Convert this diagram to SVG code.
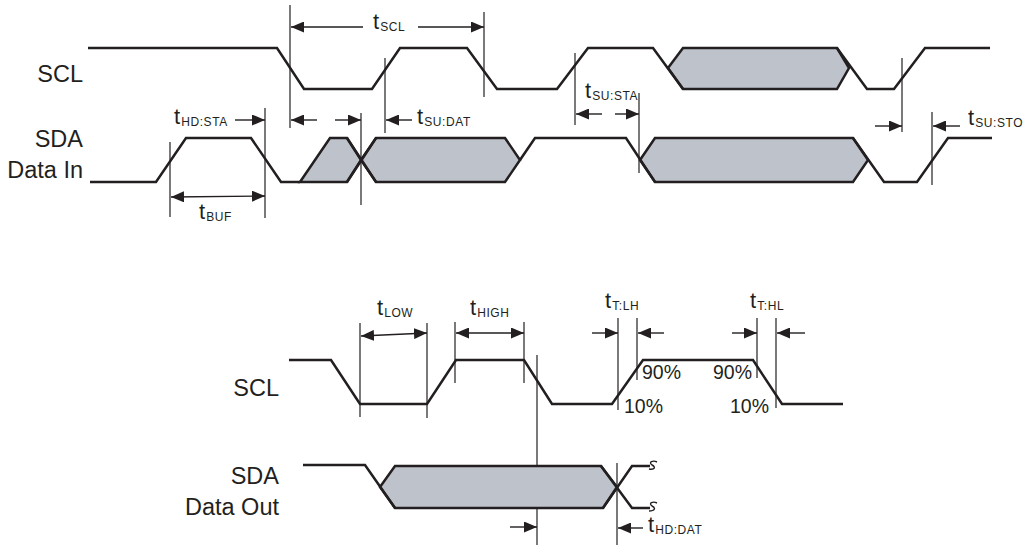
<svg xmlns="http://www.w3.org/2000/svg" width="1029" height="547" viewBox="0 0 1029 547">
<defs>
<marker id="ah" viewBox="0 0 13 11" refX="13" refY="5.5" markerWidth="13" markerHeight="11" markerUnits="userSpaceOnUse" orient="auto-start-reverse"><path d="M0,0 L13,5.5 L0,11 z" fill="#231f20"/></marker>
</defs>
<style>
.sig{fill:none;stroke:#231f20;stroke-width:2.5;stroke-linejoin:miter}
.hex{fill:#bec3cb;stroke:#231f20;stroke-width:2.5}
.ref{fill:none;stroke:#231f20;stroke-width:1.2}
.arr{fill:none;stroke:#231f20;stroke-width:1.4;marker-end:url(#ah)}
.darr{fill:none;stroke:#231f20;stroke-width:1.4;marker-end:url(#ah);marker-start:url(#ah)}
.lbl{font-family:"Liberation Sans",Arial,sans-serif;font-size:23.5px;fill:#231f20;text-anchor:end}
.t{font-family:"Liberation Sans",Arial,sans-serif;font-size:22px;fill:#231f20}
.sub{font-size:12px;letter-spacing:0.6px}
.pct{font-family:"Liberation Sans",Arial,sans-serif;font-size:19.5px;fill:#231f20}
.sq{fill:none;stroke:#231f20;stroke-width:1.4}
</style>
<rect width="1029" height="547" fill="#ffffff"/>

<g id="top-labels">
<text class="lbl" x="83" y="82">SCL</text>
<text class="lbl" x="83" y="147">SDA</text>
<text class="lbl" x="83" y="178">Data In</text>
</g>

<g id="top-scl">
<polygon class="hex" points="668,68 683,48 837,48 849,68 837,89 683,89"/>
<polyline class="sig" points="88,48 277,48 304,89 372,89 400,48 467,48 497,89 557,89 588,48 653,48 683,89"/>
<polyline class="sig" points="837,48 867,89 894,89 925,48 990,48"/>
</g>

<g id="top-sda">
<polygon class="hex" points="300,182 330,138 347,138 361,160 347,182"/>
<polygon class="hex" points="361,160 376,138 505,138 520,160 505,182 376,182"/>
<polygon class="hex" points="640,160 655,138 853,138 868,160 853,182 655,182"/>
<polyline class="sig" points="90,182 156,182 186,138 251,138 281,182 300,182"/>
<polyline class="sig" points="347,138 376,182"/>
<polyline class="sig" points="347,182 376,138"/>
<polyline class="sig" points="520,160 535,138 626,138 655,182"/>
<polyline class="sig" points="853,138 884,182 917,182 948,138 992,138"/>
</g>

<g id="connectors">
<line class="ref" x1="290" y1="5" x2="290" y2="128"/>
<line class="ref" x1="484" y1="12" x2="484" y2="97"/>
<line class="ref" x1="385" y1="58" x2="385" y2="133"/>
<line class="ref" x1="361" y1="113" x2="361" y2="205"/>
<line class="ref" x1="265" y1="108" x2="265" y2="218"/>
<line class="ref" x1="170" y1="142" x2="170" y2="217"/>
<line class="ref" x1="575" y1="53" x2="575" y2="125"/>
<line class="ref" x1="639" y1="93" x2="639" y2="173"/>
<line class="ref" x1="902" y1="58" x2="902" y2="132"/>
<line class="ref" x1="932" y1="112" x2="932" y2="185"/>

<line class="arr" x1="363" y1="27" x2="291" y2="27"/>
<line class="arr" x1="418" y1="27" x2="484" y2="27"/>
<line class="arr" x1="235" y1="120" x2="265" y2="120"/>
<line class="arr" x1="317" y1="120" x2="291" y2="120"/>
<line class="arr" x1="335" y1="120" x2="361" y2="120"/>
<line class="arr" x1="412" y1="120" x2="386" y2="120"/>
<line class="darr" x1="171" y1="197" x2="265" y2="196"/>
<line class="arr" x1="602" y1="114" x2="576" y2="114"/>
<line class="arr" x1="615" y1="114" x2="639" y2="114"/>
<line class="arr" x1="875" y1="126" x2="902" y2="126"/>
<line class="arr" x1="960" y1="126" x2="933" y2="126"/>

<line class="ref" x1="360" y1="323" x2="360" y2="417"/>
<line class="ref" x1="427" y1="323" x2="427" y2="418"/>
<line class="ref" x1="455" y1="322" x2="455" y2="383"/>
<line class="ref" x1="524" y1="322" x2="524" y2="383"/>
<line class="ref" x1="537" y1="355" x2="537" y2="545"/>
<line class="ref" x1="617" y1="463" x2="617" y2="545"/>
<line class="ref" x1="618" y1="318" x2="618" y2="410"/>
<line class="ref" x1="637" y1="318" x2="637" y2="380"/>
<line class="ref" x1="757" y1="318" x2="757" y2="378"/>
<line class="ref" x1="776" y1="318" x2="776" y2="408"/>

<line class="darr" x1="361" y1="336" x2="427" y2="333"/>
<line class="darr" x1="456" y1="333" x2="524" y2="333"/>
<line class="arr" x1="510" y1="527" x2="537" y2="527"/>
<line class="arr" x1="643" y1="528" x2="618" y2="528"/>
<line class="arr" x1="592" y1="333" x2="618" y2="333"/>
<line class="arr" x1="664" y1="333" x2="638" y2="333"/>
<line class="arr" x1="732" y1="333" x2="757" y2="333"/>
<line class="arr" x1="805" y1="333" x2="777" y2="333"/>
</g>

<g id="top-timing-labels">
<text class="t" x="373" y="29">t<tspan class="sub" dx="1" dy="2">SCL</tspan></text>
<text class="t" x="174" y="124">t<tspan class="sub" dx="1" dy="2">HD:STA</tspan></text>
<text class="t" x="417" y="124">t<tspan class="sub" dx="1" dy="2">SU:DAT</tspan></text>
<text class="t" x="199" y="219">t<tspan class="sub" dx="1" dy="2">BUF</tspan></text>
<text class="t" x="585" y="98">t<tspan class="sub" dx="1" dy="2">SU:STA</tspan></text>
<text class="t" x="968" y="125">t<tspan class="sub" dx="1" dy="2">SU:STO</tspan></text>
</g>

<g id="bottom-labels">
<text class="lbl" x="279" y="396">SCL</text>
<text class="lbl" x="279" y="484">SDA</text>
<text class="lbl" x="279" y="515">Data Out</text>
</g>

<g id="bottom-scl">
<polyline class="sig" points="289,360 331,360 360,404 427,404 456,360 524,360 552,404 612,404 643,360 753,360 782,404 843,404"/>
</g>

<g id="bottom-sda">
<polygon class="hex" points="380,487 395,466 601,466 617,487 603,508 395,508"/>
<polyline class="sig" points="303,465 365,465 395,508"/>
<polyline class="sig" points="601,466 632,508 650,508"/>
<polyline class="sig" points="603,508 632,466 650,466"/>
<path class="sq" d="M657,462 C653,460 648,462 652,465 C656,467 655,470 649,469"/>
<path class="sq" d="M657,503 C653,501 648,503 652,506 C656,508 655,511 649,511"/>
</g>

<g id="bottom-timing-labels">
<text class="t" x="377" y="315">t<tspan class="sub" dx="1" dy="2">LOW</tspan></text>
<text class="t" x="470" y="315">t<tspan class="sub" dx="1" dy="2">HIGH</tspan></text>
<text class="t" x="605" y="308">t<tspan class="sub" dx="1" dy="2">T:LH</tspan></text>
<text class="t" x="750" y="308">t<tspan class="sub" dx="1" dy="2">T:HL</tspan></text>
<text class="t" x="648" y="532">t<tspan class="sub" dx="1" dy="2">HD:DAT</tspan></text>
<text class="pct" x="642" y="379">90%</text>
<text class="pct" x="713" y="379">90%</text>
<text class="pct" x="624" y="413">10%</text>
<text class="pct" x="730" y="413">10%</text>
</g>
</svg>
